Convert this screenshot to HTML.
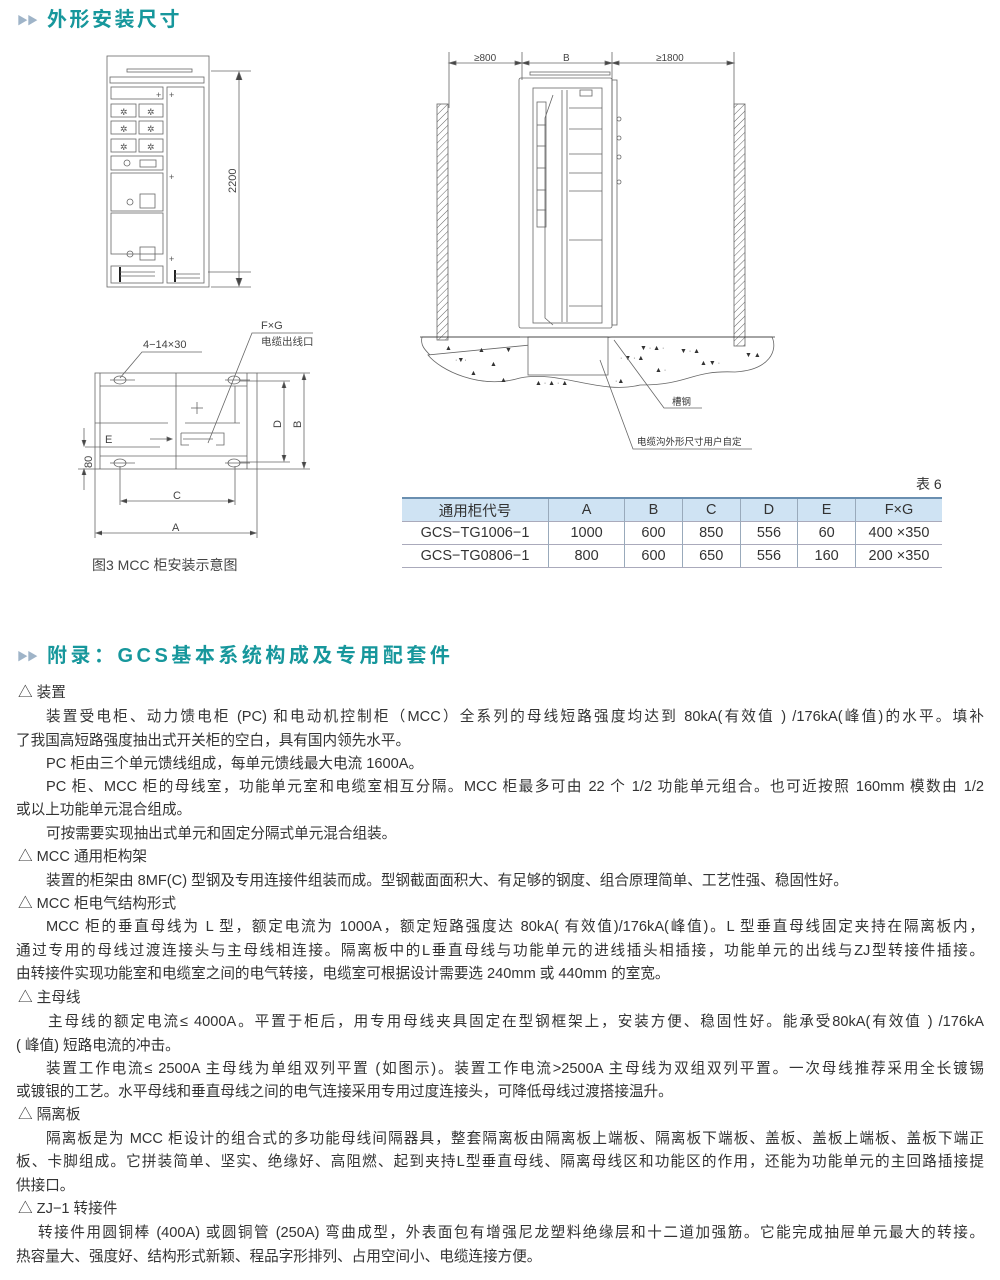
<!DOCTYPE html>
<html><head><meta charset="utf-8"><style>
body{margin:0;background:#fff;width:1000px;height:1280px;position:relative;overflow:hidden;font-family:"Liberation Sans","Noto Sans CJK SC",sans-serif;color:#333}
.h{position:absolute;left:17px;font-size:20px;font-weight:bold;color:#17979c;letter-spacing:2.5px;line-height:24px}
.h .t{color:#9fb4c8;font-size:11px;letter-spacing:-1px;margin-right:10px;vertical-align:2px}
.l{position:absolute;font-size:14.6px;line-height:20px;white-space:nowrap}
.j{text-align:justify;text-align-last:justify;white-space:normal}
table{position:absolute;left:402px;top:497px;width:540px;border-collapse:collapse;font-size:14.5px}
td{text-align:center;height:22px;border-left:1px solid #9ab;padding:0;color:#333}
td:first-child{border-left:none}
tr.hd td{background:#cfe3f3;border-top:2px solid #6a8fb0}
tr.r td{border-top:1px solid #aab}
tr.last td{border-bottom:1px solid #aab}
</style></head><body>
<div class="h" style="top:8px"><span class="t">▶▶</span>外形安装尺寸</div>
<div class="h" style="top:644px;letter-spacing:3.5px"><span class="t">▶▶</span>附录：GCS基本系统构成及专用配套件</div>

<svg style="position:absolute;left:0;top:0" width="1000" height="620" font-family="Liberation Sans,Noto Sans CJK SC,sans-serif" fill="none" stroke="#666" stroke-width="0.8">
<rect x="107" y="56" width="102" height="231"/>
<rect x="127" y="69" width="65" height="3"/>
<rect x="110" y="77" width="94" height="6"/>
<rect x="111" y="87" width="52" height="12"/>
<rect x="167" y="87" width="37" height="196"/>
<g>
<rect x="111" y="104" width="25" height="13"/><rect x="139" y="104" width="24" height="13"/>
<rect x="111" y="121" width="25" height="13"/><rect x="139" y="121" width="24" height="13"/>
<rect x="111" y="139" width="25" height="13"/><rect x="139" y="139" width="24" height="13"/>
</g>
<g font-size="9" fill="#555" stroke="none"><text x="120" y="115">✲</text><text x="147" y="115">✲</text><text x="120" y="132">✲</text><text x="147" y="132">✲</text><text x="120" y="150">✲</text><text x="147" y="150">✲</text><text x="156" y="98">+</text><text x="169" y="98">+</text><text x="169" y="180">+</text><text x="169" y="262">+</text></g>
<rect x="111" y="156" width="52" height="14"/><rect x="140" y="160" width="16" height="7"/><circle cx="127" cy="163" r="3"/>
<rect x="111" y="173" width="52" height="38"/><rect x="140" y="194" width="15" height="14"/><circle cx="130" cy="202" r="3"/>
<rect x="111" y="213" width="52" height="41"/><rect x="140" y="247" width="15" height="13"/><circle cx="130" cy="254" r="3"/>
<rect x="111" y="266" width="52" height="17"/>
<line x1="120" y1="267" x2="120" y2="282" stroke="#222" stroke-width="2"/><line x1="120" y1="272" x2="155" y2="272"/><line x1="120" y1="276" x2="155" y2="276"/>
<line x1="175" y1="270" x2="175" y2="282" stroke="#222" stroke-width="2"/><line x1="175" y1="274" x2="200" y2="274"/><line x1="175" y1="278" x2="200" y2="278"/>
<line x1="211" y1="71" x2="251" y2="71"/><line x1="211" y1="287" x2="251" y2="287"/><line x1="208" y1="272" x2="251" y2="272"/>
<line x1="239" y1="72" x2="239" y2="286"/><path d="M236 80L239 72L242 80M236 278L239 286L242 278" fill="#444"/>
<text x="0" y="0" transform="translate(236,193) rotate(-90)" font-size="11" fill="#444" stroke="none">2200</text>

<g font-size="10" fill="#444" stroke="none"><text x="474" y="61">≥800</text><text x="563" y="61">B</text><text x="656" y="61">≥1800</text></g>
<line x1="449" y1="52" x2="449" y2="108"/><line x1="522" y1="52" x2="522" y2="80"/><line x1="612" y1="52" x2="612" y2="80"/><line x1="734" y1="52" x2="734" y2="108"/>
<line x1="449" y1="63" x2="734" y2="63"/>
<path d="M449 63l7-2v4zM522 63l-7-2v4zM522 63l7-2v4zM612 63l-7-2v4zM612 63l7-2v4zM734 63l-7-2v4z" fill="#444"/>
<defs><pattern id="hp" width="5" height="5" patternUnits="userSpaceOnUse" patternTransform="rotate(45)"><line x1="0" y1="0" x2="0" y2="5" stroke="#666" stroke-width="1"/></pattern></defs>
<rect x="437" y="104" width="11" height="236" fill="url(#hp)"/><rect x="734" y="104" width="11" height="242" fill="url(#hp)"/>
<rect x="530" y="72" width="80" height="3"/>
<rect x="519" y="78" width="93" height="250" rx="2"/>
<rect x="533" y="88" width="69" height="235"/>
<line x1="562" y1="90" x2="562" y2="322"/><line x1="567" y1="90" x2="567" y2="322"/>
<path d="M553 95L545 118L545 318L553 325"/>
<rect x="537" y="102" width="9" height="125"/><line x1="537" y1="125" x2="546" y2="125"/><line x1="537" y1="146" x2="546" y2="146"/><line x1="537" y1="168" x2="546" y2="168"/><line x1="537" y1="190" x2="546" y2="190"/><line x1="537" y1="210" x2="546" y2="210"/>
<g><line x1="569" y1="108" x2="602" y2="108"/><line x1="569" y1="129" x2="602" y2="129"/><line x1="569" y1="154" x2="602" y2="154"/><line x1="569" y1="173" x2="602" y2="173"/><line x1="569" y1="191" x2="602" y2="191"/><line x1="569" y1="240" x2="602" y2="240"/><line x1="569" y1="306" x2="602" y2="306"/></g>
<rect x="580" y="90" width="12" height="6"/>
<rect x="612" y="80" width="5" height="245"/>
<circle cx="619" cy="119" r="2"/><circle cx="619" cy="138" r="2"/><circle cx="619" cy="157" r="2"/><circle cx="619" cy="182" r="2"/>
<path d="M422 337L520 337M612 337L772 337C778 350 770 370 735 372C690 370 690 385 640 385C600 395 560 370 520 378C480 390 440 370 428 355Z" />
<path d="M422 337C420 345 425 350 430 355"/>
<rect x="528" y="337" width="80" height="38" fill="#fff"/>
<line x1="420" y1="337" x2="775" y2="337" stroke="#333"/>
<g fill="#333" stroke="none" font-size="7"><text x="445" y="350">▲</text><text x="478" y="352">▲</text><text x="490" y="366">▲</text><text x="470" y="375">▲</text><text x="500" y="382">▲</text><text x="455" y="362">·▼·</text><text x="505" y="352">▼</text><text x="535" y="385">▲ · ▲ · ▲</text><text x="620" y="360">· ▼ · ▲</text><text x="640" y="350">▼ · ▲ ·</text><text x="680" y="353">▼ · ▲</text><text x="700" y="365">▲ ▼ ·</text><text x="745" y="357">▼ ▲</text><text x="655" y="372">▲ ·</text><text x="615" y="383">·▲</text></g>
<path d="M614 340L664 408L702 408"/><path d="M600 360L633 449L752 449"/>
<g font-size="9.5" fill="#333" stroke="none"><text x="672" y="405">槽钢</text><text x="637" y="445">电缆沟外形尺寸用户自定</text></g>

<rect x="95" y="373" width="162" height="96"/>
<line x1="100" y1="373" x2="100" y2="469"/><line x1="247" y1="373" x2="247" y2="469"/><line x1="176" y1="373" x2="176" y2="469"/>
<line x1="100" y1="386" x2="247" y2="386"/><line x1="100" y1="456" x2="247" y2="456"/>
<line x1="95" y1="423" x2="168" y2="423"/><line x1="185" y1="423" x2="240" y2="423"/><line x1="235" y1="386" x2="235" y2="423"/>
<g><ellipse cx="120" cy="380" rx="6" ry="4"/><ellipse cx="234" cy="380" rx="6" ry="4"/><ellipse cx="120" cy="463" rx="6" ry="4"/><ellipse cx="234" cy="463" rx="6" ry="4"/>
<line x1="110" y1="380" x2="135" y2="380"/><line x1="110" y1="463" x2="135" y2="463"/><line x1="225" y1="380" x2="250" y2="380"/><line x1="225" y1="463" x2="250" y2="463"/></g>
<path d="M181 433h43v12h-8M181 433v12h8"/>
<line x1="183" y1="439" x2="213" y2="439"/><line x1="150" y1="439" x2="167" y2="439"/><path d="M167 437l5 2-5 2z" fill="#444"/>
<line x1="197" y1="402" x2="197" y2="414"/><line x1="191" y1="408" x2="203" y2="408"/>
<line x1="85" y1="447" x2="160" y2="447"/>
<g font-size="11" fill="#444" stroke="none"><text x="105" y="443">E</text><text x="173" y="499">C</text><text x="172" y="531">A</text><text x="143" y="348">4−14×30</text><text x="261" y="329">F×G</text><text x="261" y="345" font-size="10.5">电缆出线口</text></g>
<path d="M120 378L142 352L202 352M208 443L252 333L313 333"/>
<line x1="240" y1="381" x2="290" y2="381"/><line x1="240" y1="462" x2="290" y2="462"/><line x1="257" y1="373" x2="310" y2="373"/><line x1="257" y1="469" x2="310" y2="469"/>
<line x1="284" y1="382" x2="284" y2="461"/><path d="M282 388l2-6 2 6M282 455l2 6 2-6" fill="#444"/>
<line x1="304" y1="374" x2="304" y2="468"/><path d="M302 380l2-6 2 6M302 462l2 6 2-6" fill="#444"/>
<text transform="translate(281,428) rotate(-90)" font-size="11" fill="#444" stroke="none">D</text>
<text transform="translate(301,428) rotate(-90)" font-size="11" fill="#444" stroke="none">B</text>
<line x1="120" y1="466" x2="120" y2="505"/><line x1="235" y1="466" x2="235" y2="505"/>
<line x1="121" y1="501" x2="234" y2="501"/><path d="M127 499l-6 2 6 2M228 499l6 2-6 2" fill="#444"/>
<line x1="95" y1="469" x2="95" y2="538"/><line x1="257" y1="469" x2="257" y2="538"/>
<line x1="96" y1="533" x2="256" y2="533"/><path d="M102 531l-6 2 6 2M250 531l6 2-6 2" fill="#444"/>
<line x1="84" y1="428" x2="84" y2="446"/><line x1="84" y1="469" x2="84" y2="490"/><path d="M82 440l2 6 2-6M82 475l2-6 2 6" fill="#444"/>
<text transform="translate(92,468) rotate(-90)" font-size="11" fill="#444" stroke="none">80</text>
<line x1="78" y1="469" x2="95" y2="469"/>
<text x="92" y="570" font-size="14" fill="#444" stroke="none">图3  MCC 柜安装示意图</text>
<text x="916" y="489" font-size="14" fill="#333" stroke="none">表 6</text>
</svg>

<table>
<tr class="hd"><td style="width:146px">通用柜代号</td><td>A</td><td>B</td><td>C</td><td>D</td><td>E</td><td style="width:86px">F×G</td></tr>
<tr class="r"><td>GCS−TG1006−1</td><td>1000</td><td>600</td><td>850</td><td>556</td><td>60</td><td>400 ×350</td></tr>
<tr class="r last"><td>GCS−TG0806−1</td><td>800</td><td>600</td><td>650</td><td>556</td><td>160</td><td>200 ×350</td></tr>
</table>

<div class="l" style="left:18px;top:683px">△ 装置</div>
<div class="l j" style="left:46px;top:707px;width:938px">装置受电柜、动力馈电柜 (PC) 和电动机控制柜（MCC）全系列的母线短路强度均达到 80kA(有效值 ) /176kA(峰值)的水平。填补</div>
<div class="l" style="left:16px;top:731px">了我国高短路强度抽出式开关柜的空白，具有国内领先水平。</div>
<div class="l" style="left:46px;top:754px">PC 柜由三个单元馈线组成，每单元馈线最大电流 1600A。</div>
<div class="l j" style="left:46px;top:777px;width:938px">PC 柜、MCC 柜的母线室，功能单元室和电缆室相互分隔。MCC 柜最多可由 22 个 1/2 功能单元组合。也可近按照 160mm 模数由 1/2</div>
<div class="l" style="left:16px;top:800px">或以上功能单元混合组成。</div>
<div class="l" style="left:46px;top:824px">可按需要实现抽出式单元和固定分隔式单元混合组装。</div>
<div class="l" style="left:18px;top:847px">△ MCC 通用柜构架</div>
<div class="l" style="left:46px;top:871px">装置的柜架由 8MF(C) 型钢及专用连接件组装而成。型钢截面面积大、有足够的钢度、组合原理简单、工艺性强、稳固性好。</div>
<div class="l" style="left:18px;top:894px">△ MCC 柜电气结构形式</div>
<div class="l j" style="left:46px;top:917px;width:938px">MCC 柜的垂直母线为 L 型，额定电流为 1000A，额定短路强度达 80kA( 有效值)/176kA(峰值)。L 型垂直母线固定夹持在隔离板内，</div>
<div class="l j" style="left:16px;top:941px;width:968px">通过专用的母线过渡连接头与主母线相连接。隔离板中的L垂直母线与功能单元的进线插头相插接，功能单元的出线与ZJ型转接件插接。</div>
<div class="l" style="left:16px;top:964px">由转接件实现功能室和电缆室之间的电气转接，电缆室可根据设计需要选 240mm 或 440mm 的室宽。</div>
<div class="l" style="left:18px;top:988px">△ 主母线</div>
<div class="l j" style="left:48px;top:1012px;width:936px">主母线的额定电流≤ 4000A。平置于柜后，用专用母线夹具固定在型钢框架上，安装方便、稳固性好。能承受80kA(有效值 ) /176kA</div>
<div class="l" style="left:16px;top:1036px">( 峰值) 短路电流的冲击。</div>
<div class="l j" style="left:46px;top:1059px;width:938px">装置工作电流≤ 2500A 主母线为单组双列平置 (如图示)。装置工作电流>2500A 主母线为双组双列平置。一次母线推荐采用全长镀锡</div>
<div class="l" style="left:16px;top:1082px">或镀银的工艺。水平母线和垂直母线之间的电气连接采用专用过度连接头，可降低母线过渡搭接温升。</div>
<div class="l" style="left:18px;top:1105px">△ 隔离板</div>
<div class="l j" style="left:46px;top:1129px;width:938px">隔离板是为 MCC 柜设计的组合式的多功能母线间隔器具，整套隔离板由隔离板上端板、隔离板下端板、盖板、盖板上端板、盖板下端正</div>
<div class="l j" style="left:16px;top:1152px;width:968px">板、卡脚组成。它拼装简单、坚实、绝缘好、高阻燃、起到夹持L型垂直母线、隔离母线区和功能区的作用，还能为功能单元的主回路插接提</div>
<div class="l" style="left:16px;top:1176px">供接口。</div>
<div class="l" style="left:18px;top:1199px">△ ZJ−1 转接件</div>
<div class="l j" style="left:38px;top:1223px;width:946px">转接件用圆铜棒 (400A) 或圆铜管 (250A) 弯曲成型，外表面包有增强尼龙塑料绝缘层和十二道加强筋。它能完成抽屉单元最大的转接。</div>
<div class="l" style="left:16px;top:1247px">热容量大、强度好、结构形式新颖、程品字形排列、占用空间小、电缆连接方便。</div>
</body></html>
